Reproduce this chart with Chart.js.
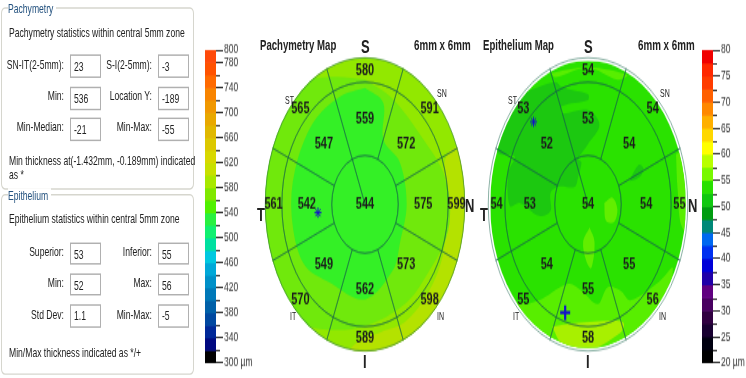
<!DOCTYPE html>
<html>
<head>
<meta charset="utf-8">
<title>Pachymetry and Epithelium Map</title>
<script src="https://cdn.jsdelivr.net/npm/chart.js@4/dist/chart.umd.js"></script>
<style>
html, body { margin: 0; padding: 0; background: #fff; overflow: hidden; }
#stage { position: absolute; left: 0; top: 0; width: 746px; height: 257px; transform-origin: 0 0; font-family: "Liberation Sans", Arial, sans-serif; color: #222; filter: blur(0.3px); }
#stage canvas { position: absolute; }
.group { position: absolute; left: 1px; width: 193px; border: 1px solid #d6d6ce; border-radius: 4px; box-sizing: border-box; }
.legend { position: absolute; left: 8px; background: #fff; color: #24527f; font-size: 8.6px; padding-right: 3px; white-space: nowrap; }
.txt { position: absolute; font-size: 8.6px; white-space: nowrap; line-height: 10px; }
.box { position: absolute; width: 31px; box-sizing: border-box; border: 1.4px solid #b0b0b0; background: #fff; font-size: 8.6px; padding-left: 3px; }
</style>
</head>
<body>
<div id="stage"></div>
<script>
// the original screenshot is stretched vertically, so the whole page is too
var STRETCH = 1.47;

// colour bars, top band first
var pachyTicks = [800, 780, 740, 700, 660, 620, 580, 540, 500, 460, 420, 380, 340, 300];
var pachyMinor = [760, 720, 680, 640, 600, 560, 520, 480, 440, 400, 360, 320];
var pachyBands = ['#ff4a0a', '#ff5200', '#ff6a00', '#f88400', '#f09800', '#e8a800', '#e0b800', '#dcc800', '#d8d800', '#c8e000', '#a8e800', '#80e800', '#50f000', '#28f040', '#10f070', '#00e0a0', '#00c8e0', '#00a8d8', '#0090c8', '#0078b8', '#0060a8', '#0048a0', '#002898', '#000880', '#000000'];
var epiTicks = [80, 75, 70, 65, 60, 55, 50, 45, 40, 35, 30, 25, 20];
var epiMinor = [77.5, 72.5, 67.5, 62.5, 57.5, 52.5, 47.5, 42.5, 37.5, 32.5, 27.5, 22.5];
var epiBands = ['#f00000', '#ff2800', '#ff3c00', '#ff6000', '#ff8800', '#ffb000', '#ffd800', '#ffff00', '#b8ff00', '#78f800', '#28e000', '#10c810', '#009c10', '#008878', '#0068f0', '#0030f0', '#0000d8', '#2000a8', '#600080', '#480060', '#300040', '#180030', '#000010', '#000000'];

// sector readings, clockwise from S: S, SN, N, IN, I, IT, T, ST
var pachyOuter = [580, 591, 599, 598, 589, 570, 561, 565];
var pachyInner = [559, 572, 575, 573, 562, 549, 542, 547];
var pachyCenter = [544];
var epiOuter = [54, 54, 55, 56, 58, 55, 54, 53];
var epiInner = [53, 54, 54, 55, 55, 54, 53, 52];
var epiCenter = [54];

// thickness contours, in mm from the apex
var wholeMap = [[-3, -3], [3, -3], [3, 3], [-3, 3], [-3, -3]];
var pachyMid = [[0, 2.55], [0.85, 2.14], [1.75, 1.33], [2.35, 0.65], [2.55, 0], [2.45, -0.65], [1.95, -1.33], [1.25, -2], [0, -2.48], [-1.25, -2.55], [-2.2, -2.3], [-3.4, -1.2], [-3.4, 1], [-2.2, 2.4], [-1, 2.6], [0, 2.55]];
var pachyYellow = [[3.4, 1.3], [2.45, 1], [2.45, 0], [2.35, -1], [1.9, -1.8], [1.2, -2.4], [0.5, -2.6], [-0.3, -2.85], [-0.8, -3.4], [3.4, -3.4], [3.4, 1.3]];
var pachyCore = [[0, 2.38], [0.55, 2.07], [0.55, 1.33], [1.05, 0.85], [1.25, 0], [1.05, -0.78], [0.85, -1.33], [0, -1.94], [-1.05, -1.6], [-1.85, -1.2], [-2.2, -0.24], [-2.1, 0.7], [-1.55, 1.67], [-0.75, 2.2], [0, 2.38]];
var epiDark = [[-1.7, 2.4], [-1, 2.55], [-0.8, 2.44], [0, 2.3], [0, 2.18], [-0.8, 2.05], [-0.8, 1.9], [0, 1.97], [0.35, 1.66], [0, 1.26], [-0.3, 0.95], [-0.2, 0.88], [-0.3, 0.58], [-0.4, 0.37], [-0.9, 0.37], [-1.15, 0.24], [-1.15, -0.14], [-1.5, -0.24], [-2.1, 0.03], [-2.4, -0.03], [-2.45, 0.65], [-2.25, 1], [-2.8, 1.1], [-3.2, 2], [-1.7, 2.4]];
var epiNotch = [[1.3, 0.54], [1.55, 0.82], [1.7, 0.75], [1.6, 0.58], [1.3, 0.48], [1.3, 0.54]];
var epiRim = [[2.7, 1.05], [2.75, 0.3], [2.9, -0.5], [3.4, -0.6], [3.4, 1.2], [2.7, 1.05]];
var epiTop = [[-1.15, 2.74], [0, 2.86], [1.2, 2.7], [0.9, 2.6], [0, 2.85], [-1, 2.65], [-1.15, 2.74]];
var epiLow = [[-1.8, -2.07], [-1.4, -1.97], [-0.6, -1.66], [-0.2, -1.8], [0.3, -2.08], [0.6, -1.73], [1, -1.8], [1.3, -2], [2.2, -1.6], [2.6, -1.33], [2.3, -2.08], [0, -3.2], [-2.4, -2.08], [-1.8, -2.07]];
var epiYellow = [[-1.1, -2.55], [-0.4, -2.48], [0.8, -2.42], [1.1, -2.48], [1, -2.68], [0, -3.05], [-0.8, -2.9], [-1.1, -2.55]];
var epiSpotA = [[0.5, 0.03], [0.75, 0.14], [0.9, -0.1], [0.8, -0.37], [0.55, -0.34], [0.5, 0.03]];
var epiSpotB = [[0.05, -0.48], [0.2, -0.78], [0.1, -1.33], [-0.05, -1.19], [-0.15, -0.78], [0.05, -0.48]];

// apex distance of the min / max markers
var pachyMinMark = [[-1.41, -0.17]];
var epiMinMark = [[-1.67, 1.72]];
var epiMaxMark = [[-0.7, -2.26]];

// left panels
var pachyStats = [['SN-IT(2-5mm):', '23', 'S-I(2-5mm):', '-3'], ['Min:', '536', 'Location Y:', '-189'], ['Min-Median:', '-21', 'Min-Max:', '-55']];
var epiStats = [['Superior:', '53', 'Inferior:', '55'], ['Min:', '52', 'Max:', '56'], ['Std Dev:', '1.1', 'Min-Max:', '-5']];

var stage = document.getElementById('stage');
stage.style.height = (378 / STRETCH) + 'px';
stage.style.transform = 'scaleY(' + STRETCH + ')';

function addText(text, x, y, cls, style) {
    var el = document.createElement('div');
    el.className = cls || 'txt';
    el.textContent = text;
    el.style.left = x + 'px';
    el.style.top = (y / STRETCH - 5) + 'px';
    for (var k in (style || {})) el.style[k] = style[k];
    stage.appendChild(el);
    return el;
}

function addGroup(top, bottom, title) {
    var g = document.createElement('div');
    g.className = 'group';
    g.style.top = (top / STRETCH) + 'px';
    g.style.height = ((bottom - top) / STRETCH) + 'px';
    stage.appendChild(g);
    addText(title, 8, top + 2, 'legend', { lineHeight: '10px' });
}

function addRows(rows, tops) {
    rows.forEach(function(row, i) {
        var top = tops[i];
        [[row[0], row[1], 64, 70], [row[2], row[3], 152, 158]].forEach(function(c) {
            var lab = addText(c[0], 0, top + 9);
            lab.style.left = 'auto';
            lab.style.right = (746 - c[2]) + 'px';
            var box = addText(c[1], c[3], top, 'box');
            box.style.top = (top / STRETCH) + 'px';
            box.style.height = (23 / STRETCH) + 'px';
            box.style.lineHeight = (23 / STRETCH) + 'px';
        });
    });
}

addGroup(7, 189, 'Pachymetry');
addText('Pachymetry statistics within central 5mm zone', 9, 32);
addRows(pachyStats, [55, 87, 118]);
addText('Min thickness at(-1.432mm, -0.189mm) indicated', 9, 160);
addText('as *', 9, 175);

addGroup(194, 375, 'Epithelium');
addText('Epithelium statistics within central 5mm zone', 9, 219);
addRows(epiStats, [242, 273, 305]);
addText('Min/Max thickness indicated as */+', 9, 353);

function addCanvas(x, y, w, h) {
    var c = document.createElement('canvas');
    c.style.left = x + 'px';
    c.style.top = y + 'px';
    c.style.width = w + 'px';
    c.style.height = h + 'px';
    c.width = w;
    c.height = h;
    stage.appendChild(c);
    return c;
}

// short ticks between the labelled ones
var minorTickPlugin = {
    id: 'minorTicks',
    afterDraw: function(chart, args, opts) {
        var ctx = chart.ctx, y = chart.scales.y;
        ctx.save();
        ctx.strokeStyle = '#333';
        ctx.lineWidth = 1;
        opts.values.forEach(function(v) {
            var py = Math.round(y.getPixelForValue(v)) + 0.5;
            ctx.beginPath();
            ctx.moveTo(chart.chartArea.right, py);
            ctx.lineTo(chart.chartArea.right + 4, py);
            ctx.stroke();
        });
        ctx.restore();
    }
};

function colourBar(left, width, bands, ticks, minor, lo, hi) {
    var step = (hi - lo) / bands.length;
    var datasets = bands.map(function(col, i) {
        return { data: [[hi - (i + 1) * step, hi - i * step]], backgroundColor: col, barPercentage: 1, categoryPercentage: 1 };
    });
    new Chart(addCanvas(left, 0, width, 257), {
        type: 'bar',
        data: { labels: [''], datasets: datasets },
        plugins: [minorTickPlugin],
        options: {
            responsive: false,
            animation: false,
            events: [],
            layout: { padding: { top: 50 / STRETCH, bottom: 257 - 363 / STRETCH } },
            plugins: { legend: { display: false }, tooltip: { enabled: false }, minorTicks: { values: minor } },
            scales: {
                x: { display: false, stacked: true },
                y: {
                    position: 'right',
                    min: lo,
                    max: hi,
                    afterBuildTicks: function(axis) {
                        axis.ticks = ticks.map(function(v) { return { value: v }; });
                    },
                    afterFit: function(axis) {
                        axis.width = width - 11;
                    },
                    border: { display: false },
                    grid: { drawOnChartArea: false, tickLength: 7, tickColor: '#333', lineWidth: 1 },
                    ticks: {
                        autoSkip: false,
                        padding: 1,
                        color: '#333',
                        font: { family: '"Liberation Sans"', size: 8.5 },
                        callback: function(v) { return v === lo ? v + ' \u00b5m' : v; }
                    }
                }
            }
        }
    });
}

colourBar(205, 60, pachyBands, pachyTicks, pachyMinor, 300, 800);
colourBar(702, 44, epiBands, epiTicks, epiMinor, 20, 80);

function toPoints(list) {
    return list.map(function(p) { return { x: p[0], y: p[1] }; });
}

// keeps the contour fills inside the round map
var roundClipPlugin = {
    id: 'roundClip',
    beforeDatasetsDraw: function(chart) {
        var a = chart.chartArea, ctx = chart.ctx;
        ctx.save();
        ctx.beginPath();
        ctx.arc((a.left + a.right) / 2, (a.top + a.bottom) / 2, a.width / 2, 0, Math.PI * 2);
        ctx.clip();
    },
    afterDatasetsDraw: function(chart) {
        chart.ctx.restore();
    }
};

// prints the reading in the middle of each sector
var sectorLabelPlugin = {
    id: 'sectorLabels',
    afterDatasetsDraw: function(chart) {
        var ctx = chart.ctx;
        ctx.save();
        ctx.font = 'bold 11px "Liberation Sans"';
        ctx.fillStyle = '#1c1c1c';
        ctx.textAlign = 'center';
        ctx.textBaseline = 'middle';
        chart.data.datasets.forEach(function(ds, i) {
            chart.getDatasetMeta(i).data.forEach(function(arc, j) {
                var p = ds.readings.length === 1 ? { x: arc.x, y: arc.y } : arc.getCenterPoint();
                ctx.fillText(ds.readings[j], p.x, p.y);
            });
        });
        ctx.restore();
    }
};

function sectorMap(cx, outer, inner, center, contours, marks) {
    var cy = 205 / STRETCH;
    var fills = contours.map(function(c) {
        return { data: toPoints(c[0]), backgroundColor: c[1], showLine: true, fill: 'shape', borderWidth: 0, pointRadius: 0, tension: 0.35, clip: false };
    });
    var points = marks.map(function(m) {
        return { data: toPoints(m[0]), pointStyle: m[1], pointRadius: m[2], pointBorderWidth: m[3], borderColor: '#1414c8', backgroundColor: '#1414c8', showLine: false, clip: false };
    });
    // the library paints the last dataset first, so the base goes last
    new Chart(addCanvas(cx - 105, cy - 105, 210, 210), {
        type: 'scatter',
        data: { datasets: points.concat(fills.reverse()) },
        plugins: [roundClipPlugin],
        options: {
            responsive: false,
            animation: false,
            events: [],
            layout: { padding: 5 },
            plugins: { legend: { display: false }, tooltip: { enabled: false } },
            scales: { x: { display: false, min: -3, max: 3 }, y: { display: false, min: -3, max: 3 } }
        }
    });
    function ring(values, weight) {
        return {
            data: values.map(function() { return 1; }),
            readings: values,
            weight: weight,
            backgroundColor: 'rgba(0,0,0,0)',
            borderColor: '#16624a',
            borderWidth: 0.5
        };
    }
    new Chart(addCanvas(cx - 105, cy - 105, 210, 210), {
        type: 'doughnut',
        data: { datasets: [ring(outer, 0.5), ring(inner, 1.5), ring(center, 1)] },
        plugins: [sectorLabelPlugin],
        options: {
            responsive: false,
            animation: false,
            events: [],
            cutout: 0,
            rotation: -22.5,
            layout: { padding: 5 },
            plugins: { legend: { display: false }, tooltip: { enabled: false } }
        }
    });
}

sectorMap(365, pachyOuter, pachyInner, pachyCenter, [
    [wholeMap, '#92e800'], [pachyYellow, '#b4e200'], [pachyMid, '#70e90c'], [pachyCore, '#34f026']
], [[pachyMinMark, 'star', 3.5, 1]]);

sectorMap(588, epiOuter, epiInner, epiCenter, [
    [wholeMap, '#2ae200'], [epiDark, '#1cc810'], [epiNotch, '#1cc810'], [epiRim, '#58ee00'], [epiTop, '#58ee00'],
    [epiLow, '#58ee00'], [epiYellow, '#a8f000'], [epiSpotA, '#62ee00'], [epiSpotB, '#62ee00']
], [[epiMinMark, 'star', 3.5, 1], [epiMaxMark, 'cross', 5, 2.2]]);

// map captions
[
    ['Pachymetry Map', 260, 46, 'bold 9.6px'], ['6mm x 6mm', 414, 46, 'bold 9.8px'],
    ['S', 361, 47, 'bold 13px'], ['T', 257, 215, 'bold 13px'], ['N', 465, 206, 'bold 13px'], ['I', 363, 362, 'bold 13px'],
    ['ST', 285, 101, '7px'], ['SN', 437, 94, '7px'], ['IT', 290, 317, '7px'], ['IN', 437, 317, '7px'],
    ['Epithelium Map', 483, 46, 'bold 9.6px'], ['6mm x 6mm', 638, 46, 'bold 9.8px'],
    ['S', 584, 47, 'bold 13px'], ['T', 480, 215, 'bold 13px'], ['N', 688, 206, 'bold 13px'], ['I', 586, 362, 'bold 13px'],
    ['ST', 508, 101, '7px'], ['SN', 660, 94, '7px'], ['IT', 513, 317, '7px'], ['IN', 659, 317, '7px']
].forEach(function(t) {
    addText(t[0], t[1], t[2], 'txt', { font: t[3] + '/10px "Liberation Sans"' });
});
</script>
</body>
</html>
